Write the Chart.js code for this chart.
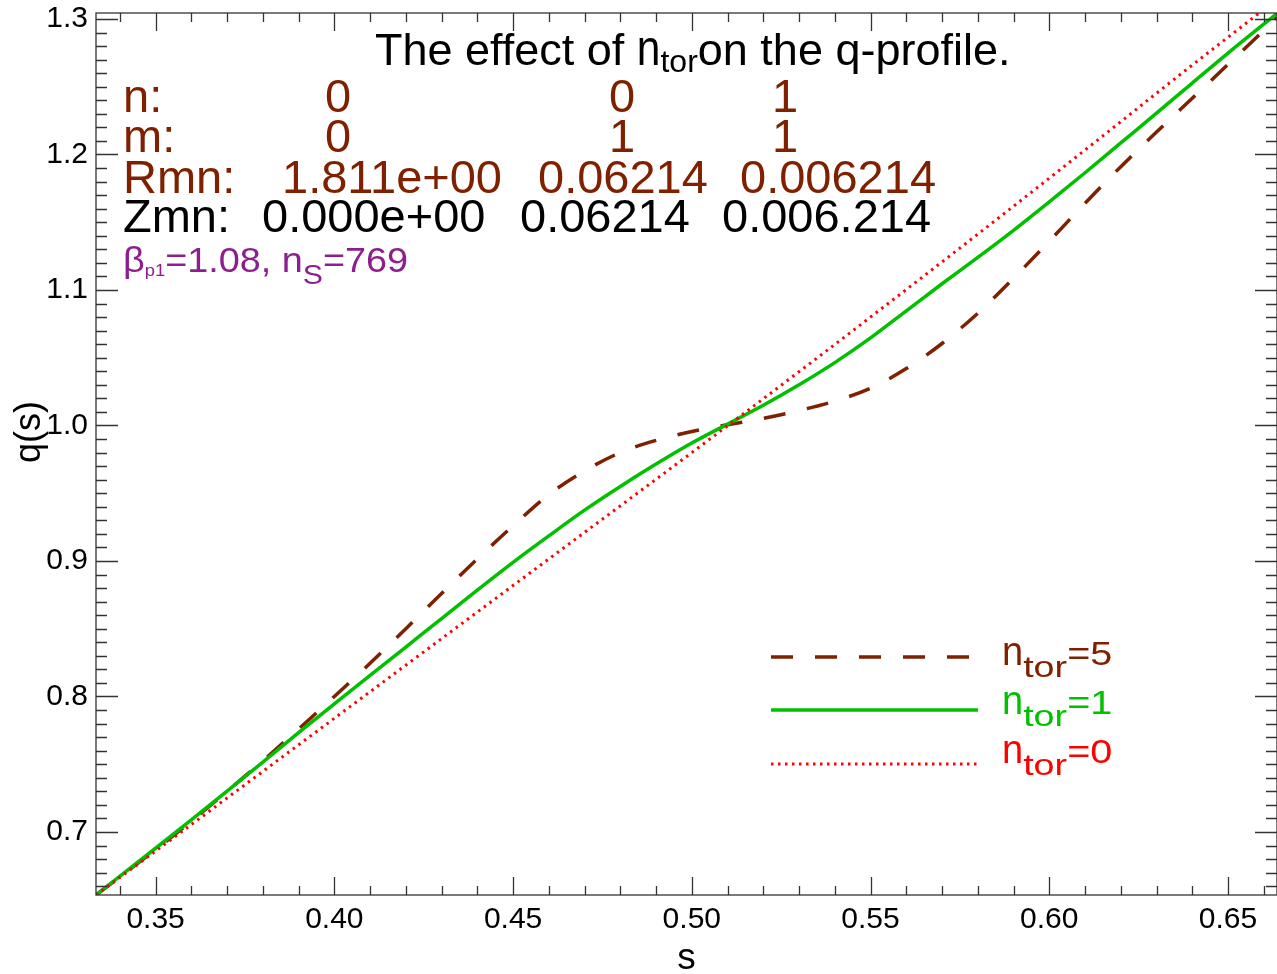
<!DOCTYPE html>
<html>
<head>
<meta charset="utf-8">
<title>q-profile</title>
<script src="https://cdn.jsdelivr.net/npm/chart.js@4.4.0/dist/chart.umd.min.js"></script>
<style>
html, body { margin: 0; padding: 0; background: #fff; }
#wrap { width: 1277px; height: 974px; }
</style>
</head>
<body>
<div id="wrap"><canvas id="myChart" width="1277" height="974"></canvas></div>
<script>
// values
var sValues = [0.33333, 0.35, 0.36, 0.37, 0.38, 0.39, 0.40, 0.41, 0.42, 0.43, 0.44, 0.45, 0.46, 0.47, 0.48, 0.49,
    0.50, 0.51, 0.52, 0.53, 0.54, 0.55, 0.56, 0.57, 0.58, 0.59, 0.60, 0.61, 0.62, 0.63, 0.64, 0.65, 0.66, 0.6637];
var qTor0 = [0.6535, 0.6859, 0.7055, 0.7251, 0.7447, 0.7643, 0.7839, 0.8035, 0.8231, 0.8427, 0.8623, 0.8819, 0.9015, 0.9211, 0.9407, 0.9603,
    0.9800, 0.9998, 1.0197, 1.0397, 1.0598, 1.0800, 1.1003, 1.1207, 1.1412, 1.1618, 1.1825, 1.2033, 1.2242, 1.2452, 1.2660, 1.2865, 1.3070, 1.3145];
var qTor1 = [0.6535, 0.6880, 0.7090, 0.7302, 0.7516, 0.7733, 0.7945, 0.8155, 0.8365, 0.8575, 0.8785, 0.8990, 0.9185, 0.9375, 0.9550, 0.9715,
    0.9870, 1.0010, 1.0149, 1.0300, 1.0464, 1.0646, 1.0846, 1.1046, 1.1240, 1.1440, 1.1650, 1.1865, 1.2085, 1.2305, 1.2527, 1.2748, 1.2962, 1.3040];
var qTor5 = [0.6535, 0.6870, 0.7080, 0.7300, 0.7525, 0.7760, 0.8000, 0.8245, 0.8500, 0.8760, 0.9015, 0.9260, 0.9490, 0.9665, 0.9800, 0.9890,
    0.9955, 1.0005, 1.0052, 1.0110, 1.0180, 1.0275, 1.0420, 1.0605, 1.0828, 1.1087, 1.1360, 1.1640, 1.1910, 1.2165, 1.2415, 1.2665, 1.2915, 1.3010];

var xMajorTicks = [0.35, 0.40, 0.45, 0.50, 0.55, 0.60, 0.65];
var yMajorTicks = [0.7, 0.8, 0.9, 1.0, 1.1, 1.2, 1.3];

var modeN = ['0', '0', '1'];
var modeM = ['0', '1', '1'];
var modeR = ['1.811e+00', '0.06214', '0.006214'];
var modeZ = ['0.000e+00', '0.06214', '0.006.214'];
var torLabels = ['5', '1', '0'];

var FONT = "'Liberation Sans', Arial, Helvetica, sans-serif";
var BROWN = '#7f2100';
var GREEN = '#00c000';
var RED = '#ff0000';
var PURPLE = '#8e1e8e';

function pts(q) {
    return sValues.map(function (s, i) { return {x: s, y: q[i]}; });
}

function near(v, list) {
    for (var i = 0; i < list.length; i++) {
        if (Math.abs(list[i] - v) < 1e-6) return list[i];
    }
    return null;
}

function onGrid(v, n) {
    return Math.abs(v * n - Math.round(v * n)) < 1e-6;
}

function drawRuns(ctx, x, y, runs, color) {
    runs.forEach(function (r) {
        ctx.save();
        ctx.font = r.size + 'px ' + FONT;
        ctx.fillStyle = r.color || color;
        ctx.textAlign = 'left';
        ctx.textBaseline = 'alphabetic';
        var sx = r.sx || 1;
        ctx.translate(x, y + (r.dy || 0));
        ctx.scale(sx, 1);
        ctx.fillText(r.t, 0, 0);
        x += ctx.measureText(r.t).width * sx;
        ctx.restore();
    });
    return x;
}

var decor = {
    id: 'decor',
    afterDraw: function (chart) {
        var ctx = chart.ctx;
        var a = chart.chartArea;
        var xs = chart.scales.x, ys = chart.scales.y;
        ctx.save();

        // frame + inward ticks on all four sides
        ctx.strokeStyle = '#333';
        ctx.lineWidth = 1.3;
        ctx.strokeRect(a.left, a.top, a.right - a.left, a.bottom - a.top);
        ctx.beginPath();
        xs.ticks.forEach(function (t) {
            if (t.value < xs.min || t.value > xs.max || !onGrid(t.value, 100)) return;
            var px = Math.round(xs.getPixelForValue(t.value)) + 0.5;
            var len = onGrid(t.value, 20) ? 18 : 9;
            ctx.moveTo(px, a.bottom); ctx.lineTo(px, a.bottom - len);
            ctx.moveTo(px, a.top); ctx.lineTo(px, a.top + len);
        });
        ys.ticks.forEach(function (t) {
            if (t.value < ys.min || t.value > ys.max || !onGrid(t.value, 100)) return;
            var py = Math.round(ys.getPixelForValue(t.value)) + 0.5;
            var len = onGrid(t.value, 10) ? 22 : 11;
            ctx.moveTo(a.left, py); ctx.lineTo(a.left + len, py);
            ctx.moveTo(a.right, py); ctx.lineTo(a.right - len, py);
        });
        ctx.stroke();

        // y axis title
        ctx.save();
        ctx.translate(30, 432);
        ctx.rotate(-Math.PI / 2);
        ctx.font = '36px ' + FONT;
        ctx.fillStyle = '#000';
        ctx.textAlign = 'center';
        ctx.textBaseline = 'middle';
        ctx.fillText('q(s)', 0, 0);
        ctx.restore();

        // title
        drawRuns(ctx, 375, 65, [
            {t: 'The effect of ', size: 45},
            {t: 'n', size: 50, sx: 0.85},
            {t: 'tor', size: 32, dy: 7},
            {t: 'on the q-profile.', size: 45}
        ], '#000');

        // mode table
        ctx.font = '47px ' + FONT;
        ctx.fillStyle = BROWN;
        ctx.textBaseline = 'alphabetic';
        ctx.textAlign = 'left';
        ctx.fillText('n:', 123, 112);
        ctx.fillText('m:', 123, 152);
        ctx.fillText('Rmn:', 123, 193);
        ctx.textAlign = 'center';
        var colC = [338, 622, 785];
        modeN.forEach(function (v, i) { ctx.fillText(v, colC[i], 112); });
        modeM.forEach(function (v, i) { ctx.fillText(v, colC[i], 152); });
        ctx.textAlign = 'left';
        var colR = [282, 538, 740];
        modeR.forEach(function (v, i) { ctx.fillText(v, colR[i], 193); });
        ctx.fillStyle = '#000';
        ctx.fillText('Zmn:', 123, 232);
        var colZ = [262, 520, 722];
        modeZ.forEach(function (v, i) { ctx.fillText(v, colZ[i], 232); });

        drawRuns(ctx, 123, 272, [
            {t: '\u03b2', size: 35, sx: 1.08},
            {t: 'p1', size: 17, dy: 4, sx: 1.08},
            {t: '=1.08, n', size: 35, sx: 1.08},
            {t: 'S', size: 28, dy: 12, sx: 1.08},
            {t: '=769', size: 35, sx: 1.08}
        ], PURPLE);

        // legend
        var rows = [
            {y: 657, ty: 665, color: BROWN, dash: [22, 22], w: 3.5},
            {y: 710, ty: 714, color: GREEN, dash: [], w: 3.5},
            {y: 764, ty: 763, color: RED, dash: [2.5, 4.5], w: 3}
        ];
        rows.forEach(function (r, i) {
            ctx.save();
            ctx.strokeStyle = r.color;
            ctx.lineWidth = r.w;
            ctx.setLineDash(r.dash);
            ctx.beginPath();
            ctx.moveTo(771, r.y);
            ctx.lineTo(978, r.y);
            ctx.stroke();
            ctx.restore();
            drawRuns(ctx, 1002, r.ty, [
                {t: 'n', size: 40, sx: 0.95},
                {t: 'tor', size: 29, dy: 12, sx: 1.3},
                {t: '=' + torLabels[i], size: 33, sx: 1.2}
            ], r.color);
        });

        ctx.restore();
    }
};

const ctx = document.getElementById('myChart');
new Chart(ctx, {
    type: 'line',
    data: {
        datasets: [{
                label: 'n_tor=0',
                data: pts(qTor0),
                borderColor: RED,
                borderWidth: 3,
                borderDash: [2.5, 4.5]
            }, {
                label: 'n_tor=1',
                data: pts(qTor1),
                borderColor: GREEN,
                borderWidth: 3.5
            }, {
                label: 'n_tor=5',
                data: pts(qTor5),
                borderColor: BROWN,
                borderWidth: 3.5,
                borderDash: [22, 22]
            }]
    },
    options: {
        responsive: false,
        animation: false,
        layout: {padding: {top: 13, right: 0, left: 0, bottom: 0}},
        elements: {
            point: {radius: 0},
            line: {cubicInterpolationMode: 'monotone', fill: false}
        },
        plugins: {
            legend: {display: false},
            tooltip: {enabled: false}
        },
        scales: {
            x: {
                type: 'linear',
                min: 0.33333,
                max: 0.6637,
                border: {display: false},
                grid: {display: false, drawTicks: false},
                ticks: {
                    stepSize: 0.01,
                    includeBounds: false,
                    autoSkip: false,
                    maxRotation: 0,
                    padding: 7,
                    color: '#000',
                    font: {family: FONT, size: 30},
                    callback: function (v) {
                        var m = near(v, xMajorTicks);
                        return m === null ? '' : m.toFixed(2);
                    }
                },
                title: {
                    display: true,
                    text: 's',
                    color: '#000',
                    padding: 0,
                    font: {family: FONT, size: 37, lineHeight: 0.8}
                },
                afterFit: function (s) {
                    s.height = 79;
                    s.paddingLeft = 0;
                    s.paddingRight = 0;
                }
            },
            y: {
                type: 'linear',
                min: 0.6535,
                max: 1.3044,
                border: {display: false},
                grid: {display: false, drawTicks: false},
                ticks: {
                    stepSize: 0.01,
                    includeBounds: false,
                    autoSkip: false,
                    padding: 8,
                    color: '#000',
                    font: {family: FONT, size: 30},
                    callback: function (v) {
                        var m = near(v, yMajorTicks);
                        return m === null ? '' : m.toFixed(1);
                    }
                },
                afterFit: function (s) {
                    s.width = 96;
                    s.paddingTop = 0;
                    s.paddingBottom = 0;
                }
            }
        }
    },
    plugins: [decor]
});
</script>
</body>
</html>
